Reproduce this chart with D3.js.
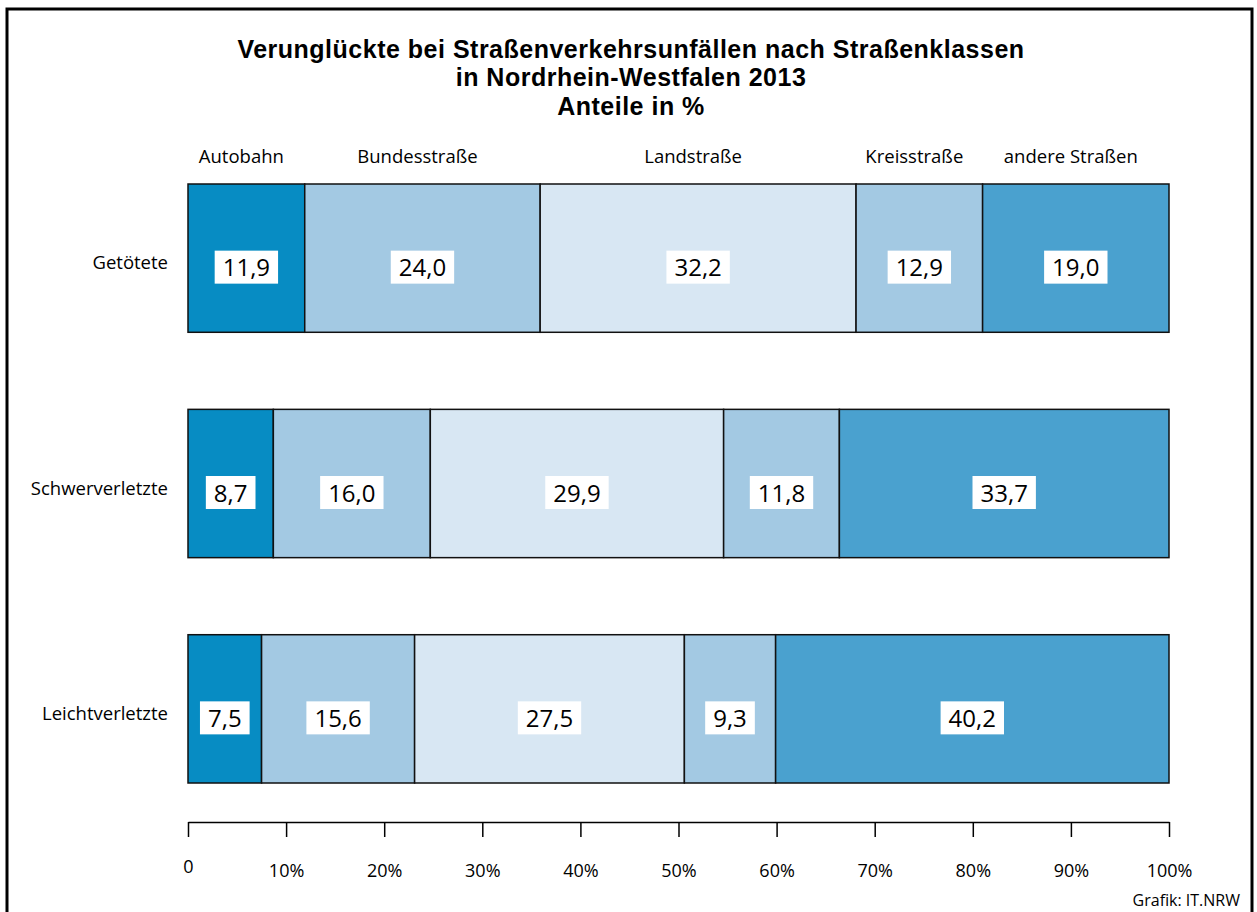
<!DOCTYPE html>
<html lang="de">
<head>
<meta charset="UTF-8">
<title>Verunglückte nach Straßenklassen</title>
<script src="https://d3js.org/d3.v7.min.js"></script>
<style>
  body { margin: 0; background: #fff; }
  svg text { font-family: "Open Sans", "Noto Sans", sans-serif; fill: #000; }
  svg text.title { font-family: "Liberation Sans", Arial, sans-serif; font-size: 25px; font-weight: bold; letter-spacing: 0.5px; }
  .lbl { font-size: 18.5px; }
  .val { font-size: 24px; }
  .axis text { font-size: 18px; }
  .axis path, .axis line { stroke: #000; stroke-width: 1.5; }
</style>
</head>
<body>
<div id="chart"></div>
<script>
var roadTypes = ["Autobahn", "Bundesstraße", "Landstraße", "Kreisstraße", "andere Straßen"];
var groups = ["Getötete", "Schwerverletzte", "Leichtverletzte"];
var getoetete = [11.9, 24.0, 32.2, 12.9, 19.0];
var schwerverletzte = [8.7, 16.0, 29.9, 11.8, 33.7];
var leichtverletzte = [7.5, 15.6, 27.5, 9.3, 40.2];
var tickValues = [0, 10, 20, 30, 40, 50, 60, 70, 80, 90, 100];
var tickLabels = ["0", "10%", "20%", "30%", "40%", "50%", "60%", "70%", "80%", "90%", "100%"];
var colors = ["#078cc3", "#a3c9e3", "#d8e7f3", "#a3c9e3", "#4aa1cf"];

var rows = [getoetete, schwerverletzte, leichtverletzte];

var width = 1257, height = 912;
var svg = d3.select("#chart").append("svg")
  .attr("width", width).attr("height", height);

// frame
svg.append("rect")
  .attr("x", 7).attr("y", 9)
  .attr("width", 1245).attr("height", 920)
  .attr("fill", "none").attr("stroke", "#000").attr("stroke-width", 3);

// title
var titleLines = ["Verunglückte bei Straßenverkehrsunfällen nach Straßenklassen",
                  "in Nordrhein-Westfalen 2013", "Anteile in %"];
var titleY = [58, 86, 115];
svg.selectAll(".title").data(titleLines).enter().append("text")
  .attr("class", "title")
  .attr("x", 631)
  .attr("y", function(d, i) { return titleY[i]; })
  .attr("text-anchor", "middle")
  .text(function(d) { return d; });

var x = d3.scaleLinear().domain([0, 100]).range([188, 1169]);
var y = d3.scaleBand().domain(groups).range([184, 783]).paddingInner(0.342);

// stack the values
var stacked = rows.map(function(vals, r) {
  var acc = 0;
  return vals.map(function(v, i) {
    var s = { group: groups[r], i: i, v: v, x0: acc, x1: acc + v };
    acc += v;
    return s;
  });
});

var g = svg.append("g");
var rowG = g.selectAll(".row").data(stacked).enter().append("g").attr("class", "row");

rowG.selectAll("rect").data(function(d) { return d; }).enter().append("rect")
  .attr("x", function(d) { return x(d.x0); })
  .attr("y", function(d) { return y(d.group); })
  .attr("width", function(d) { return x(Math.min(d.x1, 100)) - x(d.x0); })
  .attr("height", y.bandwidth())
  .attr("fill", function(d) { return colors[d.i]; })
  .attr("stroke", "#111").attr("stroke-width", 1.5);

// value labels in white boxes
var valG = rowG.selectAll(".valg").data(function(d) { return d; }).enter().append("g")
  .attr("class", "valg")
  .attr("transform", function(d) {
    var cx = (x(d.x0) + x(Math.min(d.x1, 100))) / 2;
    return "translate(" + cx + "," + (y(d.group) + y.bandwidth() / 2 + 9) + ")";
  });
valG.append("text")
  .attr("class", "val")
  .attr("text-anchor", "middle")
  .attr("y", 9)
  .text(function(d) { return d.v.toFixed(1).replace(".", ","); });
valG.each(function() {
  var t = d3.select(this).select("text");
  var bb = t.node().getBBox();
  d3.select(this).insert("rect", "text")
    .attr("x", -bb.width / 2 - 8).attr("y", -16.5)
    .attr("width", bb.width + 16).attr("height", 33)
    .attr("fill", "#fff");
});

// row labels
svg.selectAll(".rowlbl").data(groups).enter().append("text")
  .attr("class", "lbl")
  .attr("x", 168)
  .attr("y", function(d) { return y(d) + y.bandwidth() / 2 + 11; })
  .attr("text-anchor", "end")
  .text(function(d) { return d; });

// category labels above first row
svg.selectAll(".catlbl").data(stacked[0]).enter().append("text")
  .attr("class", "lbl")
  .attr("x", function(d) { return (x(d.x0) + x(d.x1)) / 2 - 5; })
  .attr("y", 163)
  .attr("text-anchor", "middle")
  .text(function(d) { return roadTypes[d.i]; });

// axis
var axis = d3.axisBottom(x)
  .tickValues(tickValues)
  .tickSize(15).tickSizeOuter(0).tickPadding(27)
  .tickFormat(function(d, i) { return tickLabels[i]; });
var ax = svg.append("g").attr("class", "axis")
  .attr("transform", "translate(0,822)")
  .call(axis);
ax.selectAll("text").attr("font-family", null).attr("font-size", null);
ax.selectAll(".tick").filter(function(d) { return d === 0; })
  .select("text").attr("dy", "0.5em");

svg.append("text")
  .attr("x", 1240).attr("y", 906)
  .attr("text-anchor", "end")
  .style("font-size", "16px")
  .text("Grafik: IT.NRW");
</script>
</body>
</html>
